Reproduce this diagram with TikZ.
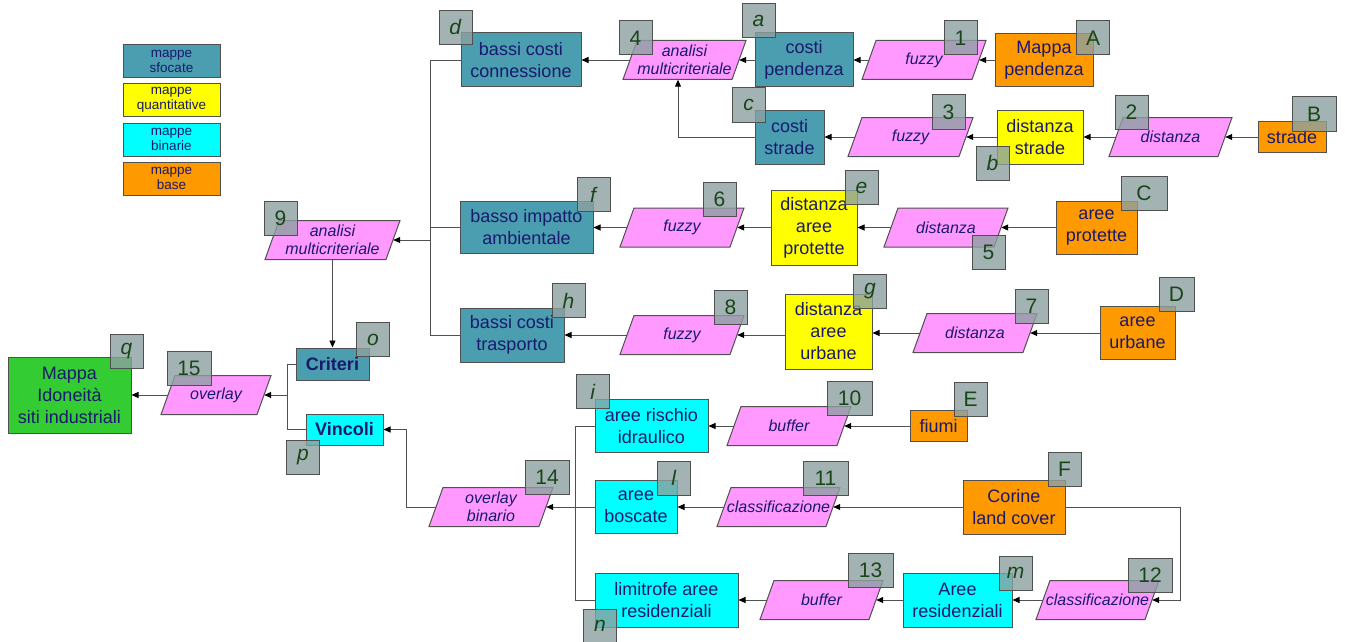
\documentclass[tikz,border=0pt]{standalone}
\usepackage{fontspec}
\setmainfont{Liberation Sans}
\usetikzlibrary{arrows.meta}
\definecolor{cteal}{RGB}{75,158,176}
\definecolor{cyel}{RGB}{255,255,0}
\definecolor{ccyan}{RGB}{0,255,255}
\definecolor{corange}{RGB}{255,153,0}
\definecolor{cgreen}{RGB}{51,204,51}
\definecolor{cpink}{RGB}{255,153,255}
\definecolor{ctext}{RGB}{25,25,110}
\definecolor{cedge}{RGB}{80,80,80}
\definecolor{clab}{RGB}{140,160,160}
\definecolor{clabtext}{RGB}{25,70,25}
\tikzset{
  box/.style={draw=cedge, line width=1pt, inner sep=0pt, align=center, text=ctext, font=\fontsize{18}{22}\selectfont},
  legbox/.style={box, minimum width=97, minimum height=33, font=\fontsize{13.5}{15}\selectfont},
  boldbox/.style={box, font=\bfseries\fontsize{18}{22}\selectfont},
  pgtext/.style={inner sep=0pt, minimum height=39, align=center, text=ctext, font=\itshape\fontsize{16}{18.5}\selectfont},
  pgshape/.style={draw=cedge, line width=1pt, fill=cpink},
  lab/.style={draw=cedge, line width=1pt, fill=clab, fill opacity=0.8, text opacity=1, text=clabtext, minimum height=34, minimum width=33, inner sep=0pt, font=\fontsize{21}{21}\selectfont},
  arr/.style={draw=cedge, line width=0.9pt, -{Triangle[length=7pt,width=6pt,color=black]}},
  ln/.style={draw=cedge, line width=0.9pt},
}
\newcommand\mypg[5]{%
  \pgfmathsetmacro\hw{#4/2}%
  \draw[pgshape, shift={(#2,#3)}] (-\hw,19.5) -- (\hw-14,19.5) -- (\hw,-19.5) -- (-\hw+14,-19.5) -- cycle;
  \node[pgtext, minimum width=#4-14] (#1) at (#2,#3) {#5};
}
\begin{document}
\begin{tikzpicture}[x=1pt,y=-1pt]
\useasboundingbox (0,0) rectangle (1345,642);
% legend
\node[legbox, fill=cteal] (L1) at (171.5,61.5) {mappe\\sfocate};
\node[legbox, fill=cyel] (L2) at (171.5,100) {mappe\\quantitative};
\node[legbox, fill=ccyan] (L3) at (171.5,139.5) {mappe\\binarie};
\node[legbox, fill=corange] (L4) at (171.5,178.5) {mappe\\base};
% boxes
\node[box, fill=cteal, minimum width=120, minimum height=54] (d) at (521,60) {bassi costi\\connessione};
\node[box, fill=cteal, minimum width=98, minimum height=54] (a) at (804,60) {costi\\pendenza};
\node[box, fill=cteal, minimum width=69, minimum height=54] (c) at (789.5,137) {costi\\strade};
\node[box, fill=corange, minimum width=98, minimum height=53] (A) at (1044,60) {Mappa\\pendenza};
\node[box, fill=cyel, minimum width=86, minimum height=54] (b) at (1040,137) {distanza\\strade};
\node[box, fill=corange, minimum width=68, minimum height=31] (B) at (1292,137) {strade};
\node[box, fill=cteal, minimum width=133, minimum height=52] (f) at (526.5,227.5) {basso impatto\\ambientale};
\node[box, fill=cyel, minimum width=86, minimum height=75] (e) at (814,227.5) {distanza\\aree\\protette};
\node[box, fill=corange, minimum width=81, minimum height=53] (C) at (1096.5,227.5) {aree\\protette};
\node[box, fill=cteal, minimum width=104, minimum height=54] (h) at (512,335) {bassi costi\\trasporto};
\node[box, fill=cyel, minimum width=87, minimum height=75] (g) at (828.5,331.5) {distanza\\aree\\urbane};
\node[box, fill=corange, minimum width=75, minimum height=53] (D) at (1137.5,333) {aree\\urbane};
\node[boldbox, fill=cteal, minimum width=73, minimum height=32] (o) at (332.5,364) {Criteri};
\node[box, fill=cgreen, minimum width=123, minimum height=76] (q) at (69.5,395) {Mappa\\Idoneità\\siti industriali};
\node[boldbox, fill=ccyan, minimum width=77, minimum height=31] (p) at (344.5,429.5) {Vincoli};
\node[box, fill=ccyan, minimum width=113, minimum height=53] (i) at (651.5,426) {aree rischio\\idraulico};
\node[box, fill=ccyan, minimum width=82, minimum height=53] (l) at (636,507) {aree\\boscate};
\node[box, fill=ccyan, minimum width=143, minimum height=54] (n) at (666.5,600) {limitrofe aree\\residenziali};
\node[box, fill=corange, minimum width=57, minimum height=31] (E) at (938.5,426) {fiumi};
\node[box, fill=corange, minimum width=102, minimum height=54] (F) at (1014,507) {Corine\\land cover};
\node[box, fill=ccyan, minimum width=109, minimum height=54] (m) at (957.5,600) {Aree\\residenziali};
% parallelograms
\mypg{p4}{684.5}{60}{123}{analisi\\multicriteriale}
\mypg{p1}{924}{60}{124}{fuzzy}
\mypg{p3}{910.5}{137}{125}{fuzzy}
\mypg{p2}{1170.5}{137}{123}{distanza}
\mypg{p9}{332.5}{240}{135}{analisi\\multicriteriale}
\mypg{p6}{682}{227.5}{124}{fuzzy}
\mypg{p5}{946}{227.5}{124}{distanza}
\mypg{p8}{682}{335}{124}{fuzzy}
\mypg{p7}{975}{333}{124}{distanza}
\mypg{p15}{216}{395}{110}{overlay}
\mypg{p10}{789}{426}{124}{buffer}
\mypg{p14}{491}{507}{124}{overlay\\binario}
\mypg{p11}{778.5}{507}{123}{classificazione}
\mypg{p13}{821.5}{600}{123}{buffer}
\mypg{p12}{1097.5}{600}{123}{classificazione}
% connectors
\draw[arr] (A) -- (p1);
\draw[arr] (p1) -- (a);
\draw[arr] (a) -- (p4);
\draw[arr] (p4) -- (d);
\draw[arr] (B) -- (p2);
\draw[arr] (p2) -- (b);
\draw[arr] (b) -- (p3);
\draw[arr] (p3) -- (c);
\draw[arr] (c.west) -| ([xshift=-6.5]p4.south);
\coordinate (j1) at (430,240);
\draw[ln] (d.west) -| (j1);
\draw[ln] (h.west) -| (j1);
\draw[ln] (f.west) -- (f.west -| j1);
\draw[arr] (j1) -- (p9.east);
\draw[arr] (p9.south) -- (o.north);
\draw[arr] (C) -- (p5);
\draw[arr] (p5) -- (e);
\draw[arr] (e) -- (p6);
\draw[arr] (p6) -- (f);
\draw[arr] (D) -- (p7);
\draw[arr] (p7.west) -- (p7.west -| g.east);
\draw[arr] (g.west |- p8.east) -- (p8.east);
\draw[arr] (p8) -- (h);
\coordinate (j2) at (287,395);
\draw[ln] (o.west) -| (j2);
\draw[ln] (p.west) -| (j2);
\draw[arr] (j2) -- (p15.east);
\draw[arr] (p15) -- (q);
\draw[arr] (p14.west) -| ([xshift=23]p.east) -- (p.east);
\coordinate (j3) at (575,507);
\draw[ln] (i.west) -| (j3);
\draw[ln] (n.west) -| (j3);
\draw[arr] (l) -- (p14);
\draw[arr] (E) -- (p10);
\draw[arr] (p10) -- (i);
\draw[arr] (F) -- (p11);
\draw[arr] (p11) -- (l);
\draw[arr] (F.east) -| ([xshift=28]p12.east) -- (p12.east);
\draw[arr] (p12) -- (m);
\draw[arr] (m) -- (p13);
\draw[arr] (p13) -- (n);
% labels
\node[lab] (Ld) at (455.5,27.5) {\textit{d}};
\node[lab] (L4n) at (635.5,38) {4};
\node[lab] (La) at (758.5,20.5) {\textit{a}};
\node[lab] (Lc) at (748.5,105) {\textit{c}};
\node[lab] (L1n) at (960.5,38) {1};
\node[lab] (LA) at (1093,38) {A};
\node[lab] (L3n) at (948.5,112) {3};
\node[lab] (Lb) at (992.5,163) {\textit{b}};
\node[lab] (L2n) at (1131.5,112.5) {2};
\node[lab, minimum width=44] (LB) at (1314,114) {B};
\node[lab] (L9n) at (280.5,218) {9};
\node[lab] (Lf) at (594,194.5) {\textit{f}};
\node[lab] (Lh) at (568.5,300.5) {\textit{h}};
\node[lab] (Lo) at (373,339.5) {\textit{o}};
\node[lab] (Lq) at (126.5,351) {\textit{q}};
\node[lab, minimum width=44] (L15n) at (189,368) {15};
\node[lab] (Lp) at (303,457) {\textit{p}};
\node[lab] (L6n) at (719.5,199) {6};
\node[lab] (Le) at (861.5,187.5) {\textit{e}};
\node[lab] (L5n) at (988.5,252) {5};
\node[lab, minimum width=46] (LC) at (1144,193) {C};
\node[lab] (L8n) at (730.5,307.5) {8};
\node[lab] (Lg) at (870,291) {\textit{g}};
\node[lab] (L7n) at (1031.5,306) {7};
\node[lab, minimum width=35] (LD) at (1176.5,294.5) {D};
\node[lab] (Li) at (593,391.5) {\textit{i}};
\node[lab, minimum width=44] (L14n) at (547,477.5) {14};
\node[lab] (Ll) at (674,478) {\textit{l}};
\node[lab, minimum width=45] (L10n) at (849.5,398) {10};
\node[lab, minimum width=45] (L11n) at (825.5,478.5) {11};
\node[lab] (Ln) at (600,626) {\textit{n}};
\node[lab, minimum width=45] (L13n) at (870.5,570.5) {13};
\node[lab] (LE) at (970.5,399) {E};
\node[lab] (LF) at (1064.5,469) {F};
\node[lab] (Lm) at (1015.5,573) {\textit{m}};
\node[lab, minimum width=44] (L12n) at (1150,575.5) {12};
\end{tikzpicture}
\end{document}
